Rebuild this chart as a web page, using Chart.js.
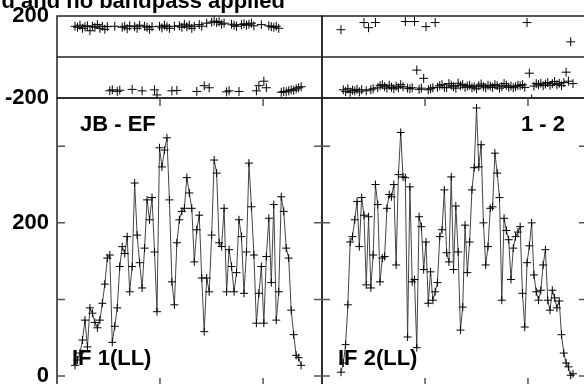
<!DOCTYPE html>
<html>
<head>
<meta charset="utf-8">
<script src="https://cdn.jsdelivr.net/npm/chart.js@4"></script>
<style>
  html, body { margin: 0; padding: 0; overflow: hidden; background: #fff; }
  canvas { display: block; }
</style>
</head>
<body>
<canvas id="possm" width="600" height="400" style="width:600px;height:400px"></canvas>
<script>
// amplitude per channel, IF 1 and IF 2
var amp1 = [14, 21, 30, 47, 73, 38, 89, 82, 70, 63,
    73, 95, 120, 154, 158, 44, 65, 89, 143, 169,
    160, 182, 110, 143, 252, 184, 148, 115, 167, 230,
    204, 233, 162, 84, 298, 273, 295, 311, 230, 123,
    93, 174, 204, 215, 219, 259, 239, 219, 149, 191,
    210, 128, 58, 128, 110, 184, 282, 265, 174, 169,
    219, 110, 165, 143, 110, 135, 204, 182, 108, 162,
    278, 221, 158, 69, 108, 143, 69, 156, 206, 122,
    224, 73, 110, 234, 215, 167, 154, 86, 54, 27,
    24, 14];
var amp2 = [5, 17, 41, 93, 175, 182, 204, 228, 169, 233,
    210, 119, 208, 115, 158, 250, 224, 123, 154, 156,
    219, 237, 234, 250, 145, 263, 318, 260, 259, 51,
    247, 123, 126, 37, 208, 195, 139, 175, 95, 136,
    99, 110, 122, 182, 191, 243, 161, 149, 260, 139,
    222, 162, 60, 90, 197, 135, 175, 243, 272, 350,
    273, 302, 200, 145, 169, 219, 221, 291, 265, 233,
    99, 206, 190, 178, 126, 167, 182, 188, 195, 108,
    64, 148, 170, 200, 132, 110, 99, 112, 145, 165,
    99, 86, 112, 102, 89, 98, 54, 30, 17, 12,
    1, 3];

// phase per channel (degrees)
var phase1 = [150, 145, 155, 140, 148, 152, 128, 150, 145, 158, 140, 150, 135, 148,
    -165, -160, 150, -168, -162,
    145, 150, 138, 152, -158,
    148, 140, 155, -165,
    150, 145, 135, 148, -160, -185,
    150, 142, 155, 148, 140, -165, 150, -163,
    152, 145, 160, 148, 155, 140, 150, -168,
    158, 150, -140, 165, -150,
    170, 175, 168, 172, 160, 165, -170, -165,
    160, 155, 150, -168,
    158, 162, 155, 160, 165, 152, -165, -140,
    158, -118, -150,
    152, 148, 145, 150, 140,
    -172, -168, -170, -165, -160, -162, -155, -150, -145];
var phase2 = [133, -160, -168, -155, -172, -162, -165, -158, -170, -160,
    168, -165, 143, -160, -155, 168,
    -150, -140, -135, -145, -152, -138, -148, -155, -142, -150, -135, -145,
    173, -152, -155, -150, 173, -64, -158, -152, -104, 148,
    -160, -155, -150, 168,
    -148, -140, -135, -148, -150, -130, -138, -145, -152, -128,
    -140, -135, -148, -142, -138, -150, -145, -155, -140, -132,
    -145, -150, -138, -142, -148, -135, -140, -152, -145, -130,
    -138, -148, -142, -150, -145, -138, -140, -135, -148,
    168, -79, -205,
    -142, -130, -135, -128, -140, -132, -125, -138, -130, -120, -135, -128, -140, -125,
    -74, -118, 74, -130];

// tick values
var ampTicks = [0, 100, 200, 300];
var ampLabels = [0, 200];
var phaseTicks = [-200, 0, 200];
var phaseLabels = [-200, 200];
var xTicks1 = [35.2, 76.7];
var xTicks2 = [37.6, 82.4];

var baseline = 'JB - EF';
var stokes = '1 - 2';
var ifNames = ['IF 1(LL)', 'IF 2(LL)'];
var title = 'd and no bandpass applied';

function pts(vals) {
    return vals.map(function (v, i) { return { x: i + 1, y: v }; });
}

var font = '"Liberation Sans", Arial, Helvetica, sans-serif';

var panels = {
    id: 'panels',
    beforeDatasetsDraw: function (chart) {
        var ctx = chart.ctx, s = chart.scales;
        var xs = [s.x1, s.x2];
        var ca = chart.chartArea;
        ctx.save();
        // phase zero line
        var y0 = s.yp.getPixelForValue(0);
        ctx.strokeStyle = '#222';
        ctx.lineWidth = 1.5;
        ctx.beginPath();
        ctx.moveTo(ca.left, y0);
        ctx.lineTo(ca.right, y0);
        ctx.stroke();
        // frames
        xs.forEach(function (x) {
            [s.yp, s.ya].forEach(function (y) {
                ctx.strokeRect(x.left, y.top, x.right - x.left, y.bottom - y.top);
            });
        });
        // inward ticks on amplitude panels
        ctx.strokeStyle = '#555';
        ctx.beginPath();
        xs.forEach(function (x) {
            ampTicks.forEach(function (v) {
                var py = s.ya.getPixelForValue(v);
                ctx.moveTo(x.left, py); ctx.lineTo(x.left + 8, py);
                ctx.moveTo(x.right - 8, py); ctx.lineTo(x.right, py);
            });
            x.ticks.forEach(function (t) {
                var px = x.getPixelForValue(t.value);
                ctx.moveTo(px, s.ya.top); ctx.lineTo(px, s.ya.top + 8);
                ctx.moveTo(px, s.ya.bottom - 8); ctx.lineTo(px, s.ya.bottom);
            });
        });
        ctx.stroke();
        // texts
        ctx.fillStyle = '#000';
        ctx.font = 'bold 22px ' + font;
        ctx.textBaseline = 'alphabetic';
        ctx.textAlign = 'left';
        ctx.fillText(baseline, s.x1.left + 23, s.ya.top + 33);
        ctx.fillText(ifNames[0], s.x1.left + 15, s.ya.bottom - 21);
        ctx.fillText(ifNames[1], s.x2.left + 16, s.ya.bottom - 21);
        ctx.textAlign = 'right';
        ctx.fillText(stokes, s.x2.right - 22, s.ya.top + 33);
        ctx.fillText(title, 285, 8);
        ctx.restore();
    }
};

var lineStyle = {
    borderColor: '#444',
    borderWidth: 1,
    pointStyle: 'cross',
    pointRadius: 4,
    pointBorderColor: '#000',
    pointBorderWidth: 1,
    tension: 0
};
var phaseStyle = {
    showLine: false,
    pointStyle: 'cross',
    pointRadius: 4.5,
    pointBorderColor: '#000',
    pointBorderWidth: 1
};

function fitY(sc) {
    sc.width = 57;
    sc.paddingTop = 0;
    sc.paddingBottom = 0;
}

var ctx = document.getElementById('possm').getContext('2d');
var chart = new Chart(ctx, {
    type: 'line',
    data: {
        datasets: [
            Object.assign({ label: 'amp IF1', data: pts(amp1), xAxisID: 'x1', yAxisID: 'ya' }, lineStyle),
            Object.assign({ label: 'amp IF2', data: pts(amp2), xAxisID: 'x2', yAxisID: 'ya' }, lineStyle),
            Object.assign({ label: 'phase IF1', data: pts(phase1), xAxisID: 'x1', yAxisID: 'yp' }, phaseStyle),
            Object.assign({ label: 'phase IF2', data: pts(phase2), xAxisID: 'x2', yAxisID: 'yp' }, phaseStyle)
        ]
    },
    options: {
        responsive: false,
        animation: false,
        layout: { padding: { left: 0, right: 13, top: 16, bottom: 14 } },
        plugins: { legend: { display: false }, tooltip: { enabled: false } },
        scales: {
            x1: {
                type: 'linear', position: 'bottom', stack: 'chan', stackWeight: 1,
                display: false, min: -6.25, max: 100.4,
                afterBuildTicks: function (sc) { sc.ticks = xTicks1.map(function (v) { return { value: v }; }); }
            },
            x2: {
                type: 'linear', position: 'bottom', stack: 'chan', stackWeight: 1,
                display: false, min: -7.27, max: 108.1,
                afterBuildTicks: function (sc) { sc.ticks = xTicks2.map(function (v) { return { value: v }; }); }
            },
            ya: {
                type: 'linear', position: 'left', stack: 'val', stackWeight: 288,
                min: -13, max: 363,
                grid: { display: false, drawTicks: false },
                border: { display: false },
                afterBuildTicks: function (sc) { sc.ticks = ampTicks.map(function (v) { return { value: v }; }); },
                afterFit: fitY,
                ticks: {
                    padding: 8, color: '#000',
                    font: { family: font, size: 22, weight: 'bold' },
                    callback: function (v) { return ampLabels.indexOf(v) >= 0 ? String(v) : ''; }
                }
            },
            yp: {
                type: 'linear', position: 'left', stack: 'val', stackWeight: 82,
                min: -200, max: 200,
                grid: { display: false, drawTicks: false },
                border: { display: false },
                afterBuildTicks: function (sc) { sc.ticks = phaseTicks.map(function (v) { return { value: v }; }); },
                afterFit: fitY,
                ticks: {
                    padding: 8, color: '#000',
                    font: { family: font, size: 22, weight: 'bold' },
                    callback: function (v) { return phaseLabels.indexOf(v) >= 0 ? String(v) : ''; }
                }
            }
        }
    },
    plugins: [panels]
});
</script>
</body>
</html>
